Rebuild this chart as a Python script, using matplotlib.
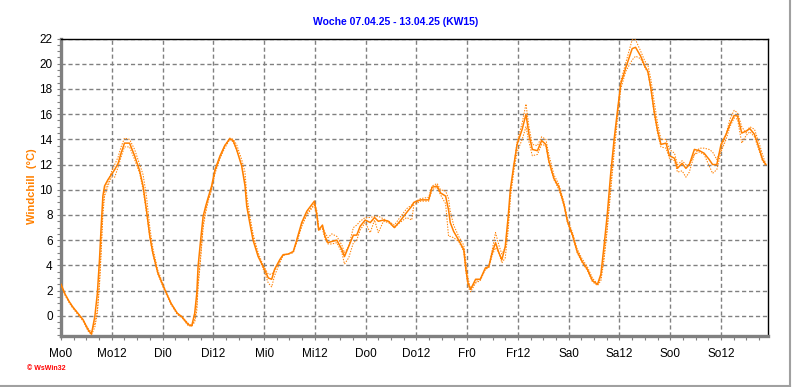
import matplotlib.pyplot as plt
from matplotlib.lines import Line2D
from matplotlib.ticker import MultipleLocator

# Stunden ab Montag 0 Uhr
hours = [0, 1.0, 2.0, 2.8, 4.0, 5.2, 6.4, 7.2, 8.0, 8.6, 9.1, 9.5, 9.9, 10.3,
         11.1, 11.9, 12.7, 13.5, 14.2, 15.0, 16.2, 17.4, 18.6, 19.4, 20.2, 21.0,
         21.7, 22.9, 24.5, 26.0, 27.5, 28.5, 30.1, 30.9, 31.6, 32.1, 32.4, 33.0,
         33.6, 34.2, 34.8, 35.6, 36.4, 37.6, 38.7, 39.9, 40.7, 41.5, 42.7, 43.5,
         43.9, 44.6, 45.4, 46.6, 47.8, 49.0, 49.8, 50.5, 51.7, 52.5, 53.7, 54.9,
         55.7, 56.9, 58.1, 59.9, 60.5, 60.9, 61.8, 62.4, 63.1, 64.0, 65.2, 66.4,
         67.0, 68.0, 69.1, 69.9, 70.7, 71.9, 73.1, 74.1, 75.0, 76.2, 77.4, 78.8,
         80.1, 81.7, 82.9, 83.4, 85.0, 86.9, 87.7, 88.9, 89.7, 90.9, 91.6, 92.0,
         92.8, 94.0, 95.2, 95.7, 96.2, 96.8, 98.0, 99.1, 100.3, 101.1, 101.9, 102.7,
         103.5, 104.2, 105.0, 105.7, 106.2, 107.0, 107.8, 109.0, 109.9, 110.6, 111.4, 112.6,
         113.6, 114.6, 115.3, 116.5, 117.7, 118.9, 119.7, 120.9, 122.0, 123.2, 124.4, 125.6,
         126.8, 127.6, 128.3, 129.1, 129.9, 130.7, 131.5, 132.3, 133.5, 135.0, 135.8, 137.0,
         138.0, 138.7, 139.4, 140.2, 141.0, 141.8, 143.0, 143.8, 145.0, 145.7, 146.8, 147.7,
         148.5, 149.7, 150.9, 152.0, 153.2, 154.0, 155.0, 156.0, 157.2, 158.1, 159.1, 159.9,
         160.9, 161.9, 162.8, 163.9, 165.0, 165.8, 166.6]

windchill = [2.5, 1.7, 1.1, 0.7, 0.2, -0.3, -1.1, -1.45, -0.05, 1.8, 4.45, 7.1, 9.5, 10.3,
             10.8, 11.2, 11.6, 12.1, 12.9, 13.7, 13.7, 12.7, 11.5, 10.3, 8.4, 6.3,
             5.0, 3.4, 2.1, 1.0, 0.2, -0.05, -0.7, -0.8, 0.2, 1.8, 3.9, 6.0,
             7.9, 8.7, 9.4, 10.3, 11.6, 12.7, 13.5, 14.05, 13.9, 13.2, 11.9, 10.3,
             8.7, 7.4, 6.0, 4.7, 3.9, 3.0, 2.9, 3.7, 4.45, 4.85, 4.9, 5.1,
             6.0, 7.4, 8.3, 9.1, 7.9, 6.8, 7.2, 6.3, 5.8, 5.9, 6.0, 5.25,
             4.7, 5.5, 6.4, 6.4, 7.1, 7.6, 7.4, 7.8, 7.5, 7.6, 7.5, 7.0,
             7.5, 8.2, 8.7, 9.0, 9.2, 9.2, 10.2, 10.3, 9.75, 9.5, 8.4, 7.4,
             6.7, 6.0, 5.25, 3.7, 2.6, 2.1, 2.9, 2.9, 3.8, 3.9, 5.0, 5.8,
             5.0, 4.45, 5.5, 7.9, 10.0, 11.9, 13.6, 14.8, 16.0, 14.4, 13.2, 13.1,
             13.9, 13.6, 12.3, 10.9, 10.2, 8.8, 7.5, 6.4, 5.1, 4.3, 3.7, 2.8,
             2.5, 3.3, 5.4, 8.0, 11.2, 13.9, 16.2, 18.4, 19.7, 21.2, 21.3, 20.6,
             19.8, 19.4, 18.1, 16.2, 14.7, 13.6, 13.7, 12.7, 12.5, 11.7, 12.1, 11.7,
             12.0, 13.2, 13.1, 12.9, 12.4, 12.0, 12.0, 13.6, 14.4, 15.2, 15.9, 15.85,
             14.5, 14.65, 14.85, 14.4, 13.3, 12.4, 12.0]

# gepunktete Kurven (zweiter Fuehler oben / unten)
hi_vals = [2.5, 1.7, 1.1, 0.7, 0.2, -0.3, -1.0, -1.3, -0.6, 0.5, 2.8, 5.5, 8.5, 9.9,
           10.6, 11.4, 12.0, 12.6, 13.4, 14.1, 14.0, 13.2, 12.0, 11.2, 9.5, 7.0,
           5.4, 3.6, 2.2, 1.0, 0.2, -0.05, -0.6, -0.8, -0.3, 0.8, 2.6, 4.8,
           7.2, 8.4, 9.2, 10.1, 11.4, 12.6, 13.5, 14.1, 14.0, 13.6, 12.4, 11.4,
           9.6, 8.0, 6.5, 5.0, 4.0, 3.3, 3.3, 3.6, 4.3, 4.8, 4.9, 5.1,
           5.8, 7.2, 8.1, 8.9, 8.3, 7.0, 7.0, 6.6, 6.2, 6.5, 6.3, 5.6,
           5.0, 5.5, 7.0, 7.2, 7.5, 7.8, 7.8, 7.9, 7.9, 7.7, 7.5, 7.2,
           7.8, 8.5, 8.8, 9.0, 9.3, 9.4, 10.3, 10.5, 10.0, 9.9, 9.3, 8.3,
           7.2, 6.3, 5.6, 4.3, 3.0, 2.1, 2.7, 2.9, 3.7, 3.9, 5.2, 6.6,
           5.6, 4.9, 5.4, 7.2, 9.6, 11.8, 13.8, 15.3, 16.8, 15.0, 13.6, 13.5,
           14.2, 14.0, 12.8, 11.2, 10.4, 9.0, 7.7, 6.6, 5.3, 4.5, 3.9, 3.0,
           2.5, 3.0, 4.6, 7.0, 10.2, 13.2, 16.0, 18.6, 20.1, 21.9, 21.9, 21.0,
           20.2, 19.9, 18.8, 17.0, 15.3, 14.0, 14.0, 13.2, 12.9, 12.0, 12.3, 12.0,
           12.0, 12.8, 13.3, 13.3, 13.2, 13.0, 12.4, 13.2, 14.4, 15.6, 16.3, 16.1,
           15.0, 14.5, 15.0, 14.8, 13.7, 12.8, 12.0]

lo_vals = [2.5, 1.6, 1.0, 0.6, 0.1, -0.4, -1.2, -1.5, -0.9, 0.2, 2.4, 5.0, 8.0, 9.5,
           10.3, 11.0, 11.0, 11.8, 12.6, 13.4, 13.4, 12.4, 11.3, 10.0, 8.2, 6.2,
           4.9, 3.3, 2.0, 0.9, 0.1, -0.1, -0.8, -0.8, -0.5, 0.4, 2.2, 4.5,
           7.0, 8.2, 9.1, 10.0, 11.3, 12.5, 13.3, 14.0, 13.8, 13.2, 12.0, 10.6,
           9.0, 7.6, 6.2, 4.8, 3.7, 2.6, 2.3, 3.2, 4.2, 4.8, 4.9, 5.0,
           5.8, 7.1, 8.0, 8.8, 8.0, 6.8, 6.9, 6.1, 5.7, 5.7, 5.8, 5.0,
           4.1, 4.6, 5.8, 6.0, 6.8, 7.4, 6.6, 7.6, 6.6, 7.5, 7.4, 7.0,
           7.4, 7.8, 7.6, 8.8, 9.1, 9.1, 10.0, 10.2, 9.6, 8.9, 6.3, 6.3,
           6.2, 5.9, 5.1, 3.5, 2.3, 1.9, 2.6, 2.8, 3.7, 3.8, 4.8, 5.4,
           5.0, 4.2, 4.6, 6.8, 9.3, 11.4, 13.0, 14.0, 15.0, 13.8, 12.7, 12.8,
           13.6, 13.5, 12.2, 10.8, 10.0, 8.7, 7.4, 6.3, 5.0, 4.2, 3.6, 2.7,
           2.4, 2.8, 4.3, 6.8, 9.8, 12.8, 15.5, 18.0, 19.4, 20.3, 20.6, 20.4,
           19.7, 19.3, 18.0, 16.0, 14.5, 13.4, 13.3, 12.5, 12.3, 11.4, 11.5, 11.0,
           11.4, 12.8, 13.0, 12.8, 11.9, 11.3, 11.6, 13.0, 14.0, 15.0, 15.7, 15.6,
           13.7, 14.3, 14.6, 14.2, 13.1, 12.3, 11.9]

xtick_pos = [0, 12, 24, 36, 48, 60, 72, 84, 96, 108, 120, 132, 144, 156]
xtick_labels = ["Mo0", "Mo12", "Di0", "Di12", "Mi0", "Mi12", "Do0", "Do12",
                "Fr0", "Fr12", "Sa0", "Sa12", "So0", "So12"]

orange = "#ff8000"

plt.rcParams['font.family'] = ['Liberation Sans', 'DejaVu Sans']

fig = plt.figure(figsize=(7.92, 3.87), dpi=100)
ax = fig.add_axes([0.077, 0.1318, 0.8927, 0.7687])

ax.plot(hours, hi_vals, color=orange, lw=0.75, ls=(0, (1.3, 1.3)), zorder=3)
ax.plot(hours, lo_vals, color=orange, lw=0.75, ls=(0, (1.3, 1.3)), zorder=3)
ax.plot(hours, windchill, color=orange, lw=1.1, zorder=4)

ax.set_xlim(0, 167.1)
ax.set_ylim(-1.6, 22)
ax.set_xticks(xtick_pos)
ax.set_xticklabels(xtick_labels)
ax.xaxis.set_minor_locator(MultipleLocator(3))
ax.set_yticks(range(0, 23, 2))
ax.yaxis.set_minor_locator(MultipleLocator(0.5))

ax.grid(True, which='major', color='#808080', ls=(0, (3, 2)), lw=1.0)
ax.tick_params(which='both', direction='out', color='#808080', labelsize=8.5, width=0.8)
ax.tick_params(which='major', length=3, pad=3)
ax.tick_params(which='minor', length=3)
ax.tick_params(axis='x', pad=6)

for s in ['left', 'bottom']:
    ax.spines[s].set_color('#808080')
    ax.spines[s].set_linewidth(2.4)
for s in ['top', 'right']:
    ax.spines[s].set_color('black')
    ax.spines[s].set_linewidth(1.0)

fig.text(0.5, 0.943, "Woche 07.04.25 - 13.04.25 (KW15)", color='#0000ff',
         fontsize=7.5, fontweight='bold', ha='center', va='center')
fig.text(0.041, 0.519, "Windchill  (°C)", color=orange, fontsize=8,
         fontweight='bold', rotation=90, ha='center', va='center')
fig.text(0.034, 0.049, "© WsWin32", color='#ff0000', fontsize=5,
         fontweight='bold', ha='left', va='center')

# grauer Rahmen rechts und unten
fig.add_artist(Line2D([0, 0.9975], [0.002, 0.002], transform=fig.transFigure,
                      color='#a0a0a0', lw=1.5))
fig.add_artist(Line2D([0.9975, 0.9975], [0.002, 1], transform=fig.transFigure,
                      color='#a0a0a0', lw=1.5))

fig.savefig("out.png", dpi=100)
